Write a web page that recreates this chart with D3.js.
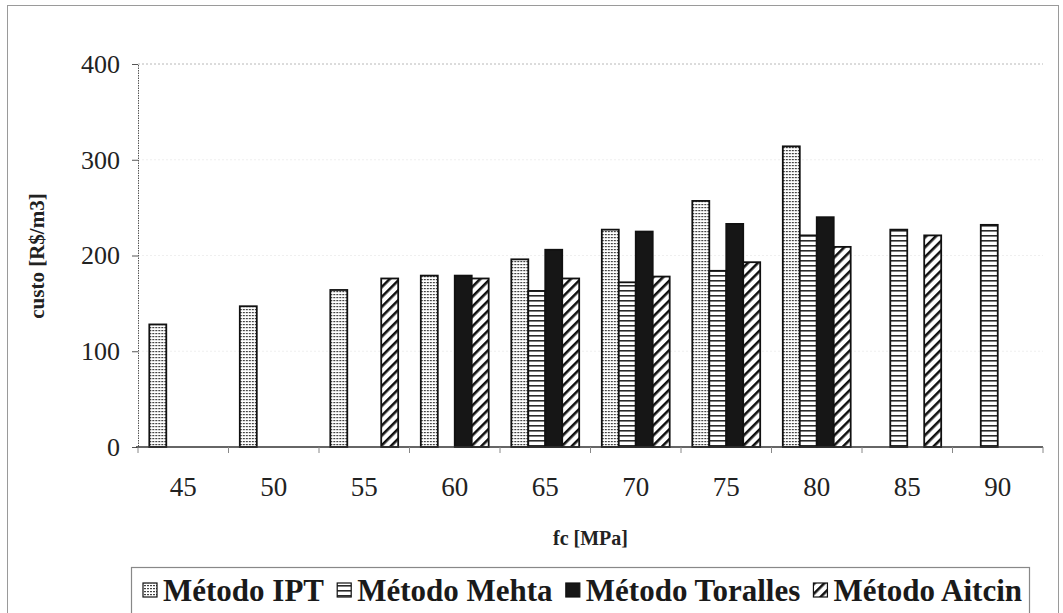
<!DOCTYPE html>
<html lang="pt">
<meta charset="UTF-8">
<title>custo x fc</title>
<script src="https://d3js.org/d3.v7.min.js"></script>
<style>
body { margin: 0; background: #fff; overflow: hidden; }
text { font-family: "Liberation Serif", "Times New Roman", serif; fill: #222; }
.tick-y { font-size: 26px; }
.tick-x { font-size: 27px; }
.axis-title { font-weight: bold; }
.legend-text { font-size: 31px; font-weight: bold; fill: #1a1a1a; }
</style>
<body>
<svg width="1063" height="613"></svg>
<script>
// dados
const categories = ['45', '50', '55', '60', '65', '70', '75', '80', '85', '90'];
const seriesNames = ['Método IPT', 'Método Mehta', 'Método Toralles', 'Método Aitcin'];
const ipt      = [128, 147, 164, 179, 196, 227, 257, 314, null, null];
const mehta    = [null, null, null, null, 163, 172, 184, 221, 227, 232];
const toralles = [null, null, null, 179, 206, 225, 233, 240, null, null];
const aitcin   = [null, null, 176, 176, 176, 178, 193, 209, 221, null];
const yTicks = [0, 100, 200, 300, 400];

const seriesValues = [ipt, mehta, toralles, aitcin];
const fills = ['url(#pIPT)', 'url(#pMehta)', '#161616', 'url(#pAitcin)'];

const svg = d3.select('svg');
const plotL = 138, plotR = 1043, plotT = 64, plotB = 447;

// patterns
const defs = svg.append('defs');
const pI = defs.append('pattern').attr('id', 'pIPT')
    .attr('patternUnits', 'userSpaceOnUse').attr('width', 3).attr('height', 3);
pI.append('rect').attr('width', 3).attr('height', 3).attr('fill', '#fff');
pI.append('rect').attr('width', 2).attr('height', 1.2).attr('fill', '#444');

const pM = defs.append('pattern').attr('id', 'pMehta')
    .attr('patternUnits', 'userSpaceOnUse').attr('width', 5).attr('height', 5);
pM.append('rect').attr('width', 5).attr('height', 5).attr('fill', '#fff');
pM.append('rect').attr('width', 5).attr('height', 1.6).attr('fill', '#2a2a2a');

const pA = defs.append('pattern').attr('id', 'pAitcin')
    .attr('patternUnits', 'userSpaceOnUse').attr('width', 7).attr('height', 7)
    .attr('patternTransform', 'rotate(45)');
pA.append('rect').attr('width', 7).attr('height', 7).attr('fill', '#fff');
pA.append('rect').attr('width', 2.6).attr('height', 7).attr('fill', '#111');

// outer frame
svg.append('rect')
    .attr('x', 7.5).attr('y', 5.5).attr('width', 1051).attr('height', 620)
    .attr('fill', 'none').attr('stroke', '#9a9a9a').attr('stroke-width', 1);

const x0 = d3.scaleBand().domain(categories).range([plotL, plotR])
    .paddingInner(0.25).paddingOuter(0.125);
const x1 = d3.scaleBand().domain(d3.range(seriesNames.length))
    .range([0, x0.bandwidth()]);
const y = d3.scaleLinear().domain([0, 400]).range([plotB, plotT]);

// gridlines
svg.append('g').selectAll('line').data(yTicks.filter(d => d > 0))
  .enter().append('line')
    .attr('x1', plotL).attr('x2', plotR)
    .attr('y1', d => y(d)).attr('y2', d => y(d))
    .attr('stroke', d => d === 400 ? '#b8b8b8' : '#efefef')
    .attr('stroke-dasharray', '2,2');

// bars
const groups = svg.append('g').selectAll('g').data(categories)
  .enter().append('g')
    .attr('transform', d => `translate(${x0(d)},0)`);

groups.selectAll('rect')
  .data((c, i) => seriesValues.map((s, k) => ({k, v: s[i]})).filter(d => d.v != null))
  .enter().append('rect')
    .attr('x', d => x1(d.k))
    .attr('y', d => y(d.v))
    .attr('width', x1.bandwidth())
    .attr('height', d => plotB - y(d.v))
    .attr('fill', d => fills[d.k])
    .attr('stroke', '#111')
    .attr('stroke-width', 1.8);

// y axis
const yAxis = svg.append('g').attr('transform', `translate(${plotL},0)`)
    .call(d3.axisLeft(y).tickValues(yTicks).tickSize(6).tickPadding(12));
yAxis.attr('font-family', null).attr('font-size', null);
yAxis.select('.domain').attr('stroke', '#555').attr('stroke-dasharray', '1.5,1');
yAxis.selectAll('.tick line').attr('stroke', '#555');
yAxis.selectAll('.tick text').attr('class', 'tick-y').attr('fill', '#333');

// x axis
const xAxisG = svg.append('g').attr('transform', `translate(0,${plotB})`);
xAxisG.append('line').attr('x1', plotL - 2).attr('x2', plotR)
    .attr('stroke', '#333').attr('stroke-width', 1.5);
xAxisG.selectAll('.xt').data(d3.range(categories.length + 1))
  .enter().append('line')
    .attr('x1', i => plotL + i * x0.step()).attr('x2', i => plotL + i * x0.step())
    .attr('y1', 0).attr('y2', 6).attr('stroke', '#888');
xAxisG.selectAll('text').data(categories)
  .enter().append('text')
    .attr('class', 'tick-x')
    .attr('x', d => x0(d) + x0.bandwidth() / 2)
    .attr('y', 40).attr('dy', '0.35em')
    .attr('text-anchor', 'middle').attr('fill', '#333')
    .text(d => d);

// axis titles
svg.append('text').attr('class', 'axis-title')
    .attr('transform', 'translate(44,256) rotate(-90)')
    .attr('text-anchor', 'middle').attr('font-size', 21)
    .text('custo [R$/m3]');
svg.append('text').attr('class', 'axis-title')
    .attr('x', (plotL + plotR) / 2).attr('y', 538)
    .attr('text-anchor', 'middle').attr('dy', '0.35em').attr('font-size', 20)
    .text('fc [MPa]');

// legend
const legend = svg.append('g');
legend.append('rect')
    .attr('x', 131.5).attr('y', 567.5).attr('width', 898).attr('height', 80)
    .attr('fill', '#fff').attr('stroke', '#888').attr('stroke-width', 1.2);

const legStart = 143, legEnd = 1022, boxW = 14, boxGap = 6;
const items = seriesNames.map((name, k) => {
  const box = legend.append('rect')
      .attr('y', 583).attr('width', boxW).attr('height', boxW)
      .attr('fill', fills[k]).attr('stroke', '#111').attr('stroke-width', 1.2);
  const t = legend.append('text').attr('class', 'legend-text')
      .attr('y', 601).text(name);
  return {box, t, w: t.node().getComputedTextLength()};
});
// espalhar os itens entre legStart e legEnd
const used = d3.sum(items, d => boxW + boxGap + d.w);
const gap = Math.max(6, (legEnd - legStart - used) / (items.length - 1));
let lx = legStart;
items.forEach(d => {
  d.box.attr('x', lx);
  d.t.attr('x', lx + boxW + boxGap);
  lx += boxW + boxGap + d.w + gap;
});
</script>
</body>
</html>
